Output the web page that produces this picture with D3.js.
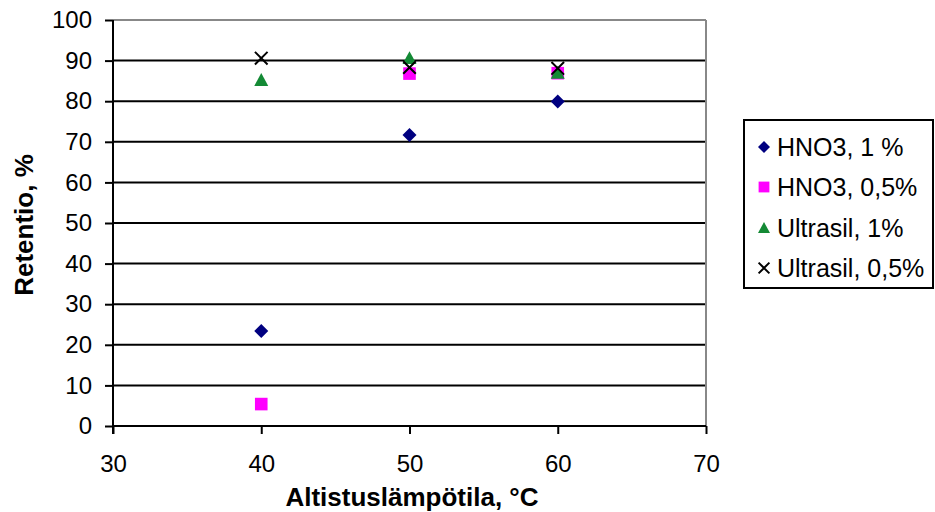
<!DOCTYPE html>
<html><head><meta charset="utf-8">
<script src="https://cdn.jsdelivr.net/npm/d3@7"></script>
<style>body{margin:0;background:#fff}svg{font-family:"Liberation Sans",Arial,sans-serif}</style>
</head><body><svg id="c" width="935" height="512"></svg>
<script>
const temps = [40, 50, 60];
const hno3_1 = [23.4, 71.7, 79.9];
const hno3_05 = [5.4, 86.8, 86.9];
const ultrasil_1 = [85.2, 90.6, 87.0];
const ultrasil_05 = [90.6, 88.3, 88.1];
const seriesNames = ["HNO3, 1 %", "HNO3, 0,5%", "Ultrasil, 1%", "Ultrasil, 0,5%"];
const xTicks = [30, 40, 50, 60, 70];
const yTicks = [0, 10, 20, 30, 40, 50, 60, 70, 80, 90, 100];

const svg = d3.select("#c");
const L = 113, R = 706, T = 20, B = 426;
const x = d3.scaleLinear().domain([30, 70]).range([L, R]);
const y = d3.scaleLinear().domain([0, 100]).range([B, T]);

// gridlines
svg.append("g").selectAll("line").data(yTicks.filter(d => d > 0 && d < 100)).join("line")
  .attr("x1", L).attr("x2", R).attr("y1", d => y(d)).attr("y2", d => y(d))
  .attr("stroke", "#000").attr("stroke-width", 2);
// top and right border (gray)
svg.append("line").attr("x1", L).attr("x2", R).attr("y1", y(100)).attr("y2", y(100)).attr("stroke", "#888").attr("stroke-width", 2);
svg.append("line").attr("x1", R).attr("x2", R).attr("y1", T).attr("y2", B).attr("stroke", "#888").attr("stroke-width", 2);

// axes
const yAxis = d3.axisLeft(y).tickValues(yTicks).tickSize(8).tickPadding(13);
const gy = svg.append("g").attr("transform", `translate(${L},0)`).call(yAxis);
const xAxis = d3.axisBottom(x).tickValues(xTicks).tickSize(8).tickPadding(21);
const gx = svg.append("g").attr("transform", `translate(0,${B})`).call(xAxis);
[gy, gx].forEach(g => {
  g.attr("font-size", null).attr("font-family", null);
  g.select(".domain").attr("stroke", "#000").attr("stroke-width", 2);
  g.selectAll(".tick line").attr("stroke", "#000").attr("stroke-width", 2);
  g.selectAll("text").style("font-size", "24px").attr("fill", "#000").style("font-family", "Liberation Sans, Arial, sans-serif");
});
gx.select(".domain").attr("d", `M${L},0H${R}`);
gy.select(".domain").attr("d", `M0,${B + 8}V${T}`);

// titles
svg.append("text").attr("x", 412).attr("y", 506).attr("text-anchor", "middle")
  .attr("font-weight", "bold").style("font-size", "26px").text("Altistuslämpötila, °C");
svg.append("text").attr("transform", `translate(33,225) rotate(-90)`).attr("text-anchor", "middle")
  .attr("font-weight", "bold").style("font-size", "26px").text("Retentio, %");

// markers
function drawMarker(g, type, cx, cy, s) {
  if (type === 0) {
    g.append("path").attr("d", `M${cx},${cy - s}L${cx + s},${cy}L${cx},${cy + s}L${cx - s},${cy}Z`).attr("fill", "#000080");
  } else if (type === 1) {
    const h = s * 0.9;
    g.append("rect").attr("x", cx - h).attr("y", cy - h).attr("width", 2 * h).attr("height", 2 * h).attr("fill", "#ff00ff");
  } else if (type === 2) {
    g.append("path").attr("d", `M${cx},${cy - s}L${cx + s},${cy + s * 0.85}L${cx - s},${cy + s * 0.85}Z`).attr("fill", "#148a35");
  } else {
    const h = s * 0.9;
    g.append("path").attr("d", `M${cx - h},${cy - h}L${cx + h},${cy + h}M${cx + h},${cy - h}L${cx - h},${cy + h}`).attr("stroke", "#000").attr("stroke-width", 2).attr("fill", "none");
  }
}
const allSeries = [hno3_1, hno3_05, ultrasil_1, ultrasil_05];
const mg = svg.append("g");
allSeries.forEach((s, i) => {
  s.forEach((v, j) => drawMarker(mg, i, x(temps[j]), y(v), 7));
});

// legend
const lg = svg.append("g");
lg.append("rect").attr("x", 744).attr("y", 120).attr("width", 189).attr("height", 168)
  .attr("fill", "#fff").attr("stroke", "#000").attr("stroke-width", 2);
const ly = [147, 187, 228, 268];
seriesNames.forEach((n, i) => {
  drawMarker(lg, i, 764, ly[i], 6);
  lg.append("text").attr("x", 777).attr("y", ly[i]).attr("dy", "0.35em").style("font-size", "25px").text(n);
});
</script></body></html>
